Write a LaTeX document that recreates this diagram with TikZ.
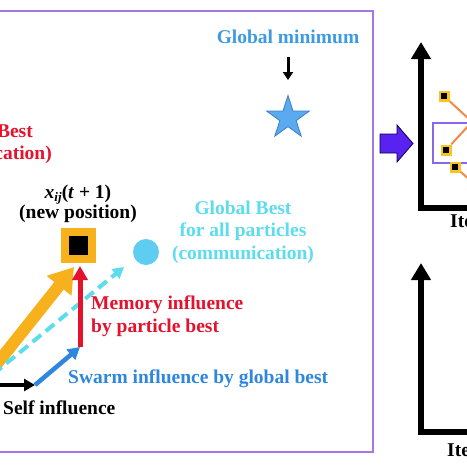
\documentclass[tikz,border=0pt]{standalone}
\usepackage{fontspec}
\setmainfont{Liberation Serif}
\usetikzlibrary{arrows.meta,shapes.geometric}
\definecolor{framepurple}{HTML}{A478E4}
\definecolor{pred}{HTML}{E5122E}
\definecolor{gmblue}{HTML}{3D9BE2}
\definecolor{pcyan}{HTML}{5CDDEE}
\definecolor{porange}{HTML}{F6B11C}
\definecolor{pblue}{HTML}{2E86DE}
\definecolor{starfill}{HTML}{5AAAF0}
\definecolor{stardraw}{HTML}{3E7FC4}
\definecolor{circfill}{HTML}{5FCDF2}
\definecolor{arrowpurple}{HTML}{5A22F0}
\definecolor{lineorange}{HTML}{F08A48}
\definecolor{pyellow}{HTML}{F8C422}
\begin{document}
\begin{tikzpicture}[x=1pt,y=-1pt,
  lbl/.style={font=\fontsize{19.5}{22.5}\selectfont\bfseries, inner sep=0pt, align=center},
  axisline/.style={line width=6pt, line join=miter, -{Triangle[width=19pt,length=17pt]}},
  particle/.style={fill=pyellow, minimum size=11pt, inner sep=0pt,
    path picture={\fill[black] ([shift={(-2.8pt,-2.8pt)}]path picture bounding box.center) rectangle ++(5.6pt,5.6pt);}},
  pline/.style={lineorange, line width=2pt}
]
\useasboundingbox (0,0) rectangle (467,467);
\fill[white] (0,0) rectangle (467,467);

% main frame
\draw[framepurple, line width=1.6pt] (-5,11) rectangle (373,452);

% global minimum
\node[lbl, text=gmblue] (gmtext) at (288,37) {Global minimum};
\node[star, star points=5, star point ratio=2.618, minimum size=45pt, inner sep=0pt,
  fill=starfill, draw=stardraw, line width=0.8pt] (star) at (288,118) {};
\draw[black, line width=3pt, -{Triangle[width=10pt,length=8pt]}] (288,57) -- (star.north |- 0,80);

% clipped red label
\node[lbl, text=pred, anchor=east] (pbest1) at (33,131) {Particle Best};
\node[lbl, text=pred, anchor=east] (pbest2) at (52,155) {(communication)};

% new position
\node[lbl] (xlab) at (78,195) {\textit{x}\raisebox{-0.35ex}{\fontsize{13}{13}\selectfont\textit{ij}}(\textit{t} + 1)};
\node[lbl] (nplab) at (78,214) {(new position)};
\node[fill=porange, minimum size=35pt, inner sep=0pt] (newpos) at (78.5,245.5) {};
\node[fill=black, minimum size=19pt, inner sep=0pt] (newposin) at (newpos.center) {};

% global best circle and text
\node[circle, fill=circfill, minimum size=26pt, inner sep=0pt] (gb) at (146,252) {};
\node[lbl, text=pcyan] (gbtext) at (243,232) {Global Best\\for all particles\\(communication)};

% vectors
\coordinate (o) at (-20,385);
\coordinate (bs) at (35,385);
\coordinate (rb) at (80,347);
\coordinate (rt) at (80,266);
\coordinate (otip) at (74,267);
\coordinate (ctip) at (124,267);

\draw[porange, line width=12pt, -{Triangle[width=30pt,length=24pt]}] (o) -- (otip);
\draw[pcyan, line width=4pt, dash pattern=on 11pt off 6pt, -{Triangle[width=12pt,length=11pt]}] (o) -- (ctip);
\draw[black, line width=4pt, -{Triangle[width=12pt,length=11pt]}] (o) -- (bs);
\draw[pblue, line width=4.5pt, -{Triangle[width=13pt,length=12pt]}] (bs) -- (rb);
\draw[pred, line width=5pt, -{Triangle[width=15pt,length=14pt]}] (rb) -- (rt);

\node[lbl, text=pred, anchor=west, align=left] (memtext) at (91,316) {Memory influence\\by particle best};
\node[lbl, text=pblue, anchor=west] (swtext) at (68,379) {Swarm influence by global best};
\node[lbl, anchor=west] (selftext) at (3,408) {Self influence};

% purple arrow
\draw[fill=arrowpurple, draw=black!70!blue, line width=0.8pt]
  (380,134) -- (397,134) -- (397,125) -- (413,143.5) -- (397,162) -- (397,153) -- (380,153) -- cycle;

% top-right panel
\draw[axisline] (480,208) -- (421,208) -- (421,42);
\draw[framepurple!85!blue, line width=1.2pt] (433,123) rectangle (480,163);
\node[particle] (p1) at (444,96) {};
\node[particle] (p2) at (446,150) {};
\node[particle] (p3) at (455,167) {};
\coordinate (e1) at (470,120);
\coordinate (e2) at (470,124);
\coordinate (e3) at (470,180);
\draw[pline] (p1) -- (e1);
\draw[pline] (p2) -- (e2);
\draw[pline] (p3) -- (e3);
\node[lbl, anchor=west] (it1) at (450,221) {Iteration};

% bottom-right panel
\draw[axisline] (480,432) -- (421,432) -- (421,263);
\node[lbl, anchor=west] (it2) at (447,450) {Iteration};
\end{tikzpicture}
\end{document}
